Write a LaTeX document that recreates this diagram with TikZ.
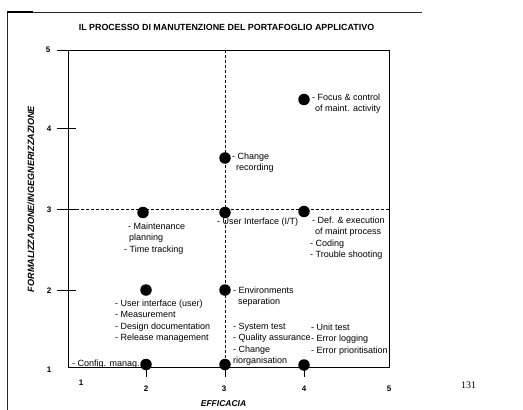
\documentclass[tikz,border=0pt]{standalone}
\usepackage{fontspec}
\setmainfont{Liberation Serif}
\setsansfont{Liberation Sans}
\begin{document}
\begin{tikzpicture}[x=1pt,y=-1pt,
  frame/.style={line width=0.8pt,black!85},
  axis/.style={line width=0.9pt,black},
  guide/.style={line width=0.7pt,dash pattern=on 3pt off 2pt},
  dot/.style={circle,fill=black,inner sep=0pt,minimum size=11.5pt},
  lbl/.style={font=\sffamily\fontsize{9}{11.4}\selectfont,align=left,inner sep=0pt,anchor=base west},
  ticknum/.style={font=\sffamily\bfseries\fontsize{8}{9}\selectfont,inner sep=0pt},
  axtitle/.style={font=\sffamily\bfseries\itshape\fontsize{8.5}{10}\selectfont,inner sep=0pt}]
\useasboundingbox (0,0) rectangle (523,410);

% page rule
\draw[frame] (7,410) -- (7,12) -- (422,12);
\draw[line width=1.4pt] (7,12) -- (33,12);

% title
\node[font=\sffamily\bfseries\fontsize{8.9}{10}\selectfont,inner sep=0pt] (title) at (226.5,27)
  {IL PROCESSO DI MANUTENZIONE DEL PORTAFOGLIO APPLICATIVO};

% plot area corners
\coordinate (o)  at (68,367);
\coordinate (tl) at (68,50);
\coordinate (tr) at (389,50);
\coordinate (br) at (389,367);

% axes and box
\draw[axis] (57,50) -- (tr) -- (br) -- (o) -- (tl);
\foreach \yy in {128,209,290} \draw[axis] (57,\yy) -- (76,\yy);
\foreach \xx in {146,225,304} \draw[axis] (\xx,367) -- (\xx,377);

% guide lines at level 3
\coordinate (vtop) at (225,50);
\coordinate (vbot) at (225,367);
\coordinate (hl) at (76,209);
\coordinate (hr) at (389,209);
\draw[guide] (vtop) -- (vbot);
\draw[guide] (hl) -- (hr);

% tick numbers
\node[ticknum] (y5) at (48,50) {5};
\node[ticknum] (y4) at (49,129) {4};
\node[ticknum] (y3) at (49,210) {3};
\node[ticknum] (y2) at (49,291) {2};
\node[ticknum] (y1) at (49,370) {1};
\node[ticknum] (x1) at (81,383) {1};
\node[ticknum] (x2) at (146,389) {2};
\node[ticknum] (x3) at (224,389) {3};
\node[ticknum] (x4) at (304,389) {4};
\node[ticknum] (x5) at (389,389) {5};

% axis titles
\node[axtitle,rotate=90,font=\sffamily\bfseries\itshape\fontsize{9.1}{10}\selectfont] (ytitle) at (31,199) {FORMALIZZAZIONE/INGEGNERIZZAZIONE};
\node[axtitle] (xtitle) at (223.5,404) {EFFICACIA};

% points
\node[dot] (p44) at (304,99.5) {};
\node[dot] (p36) at (225,158) {};
\node[dot] (p23) at (143,212.5) {};
\node[dot] (p33) at (225,212.5) {};
\node[dot] (p43) at (304,211.5) {};
\node[dot] (p22) at (146,290) {};
\node[dot] (p32) at (225,290) {};
\node[dot] (p21) at (146,364.5) {};
\node[dot] (p31) at (225,364.5) {};
\node[dot] (p41) at (304,365) {};

% point labels (base anchor sits on the last line)
\node[lbl] (l44) at (312,111.9) {- Focus \& control\\\hspace*{3pt}of maint. activity};
\node[lbl] (l36) at (232,170.9) {- Change\\\hspace*{4pt}recording};
\node[lbl] (l23) at (124,252.3) {\hspace*{4pt}- Maintenance\\\hspace*{5pt}planning\\- Time tracking};
\node[lbl] (l33) at (217,224.5) {- User Interface (I/T)};
\node[lbl] (l43) at (310,257.7) {\hspace*{2pt}- Def. \& execution\\\hspace*{5pt}of maint process\\- Coding\\- Trouble shooting};
\node[lbl] (l32) at (233,304.9) {- Environments\\\hspace*{5pt}separation};
\node[lbl] (l22) at (115,340.7) {- User interface (user)\\- Measurement\\- Design documentation\\- Release management};
\node[lbl] (l31) at (233,363.7) {- System test\\- Quality assurance\\- Change\\riorganisation};
\node[lbl] (l41) at (311,353.3) {- Unit test\\- Error logging\\- Error prioritisation};
\node[lbl] (l21) at (72,366.5) {- Config. manag.};

% page number
\node[font=\rmfamily\fontsize{10}{12}\selectfont,inner sep=0pt] (pg) at (468.5,385) {131};
\end{tikzpicture}
\end{document}
